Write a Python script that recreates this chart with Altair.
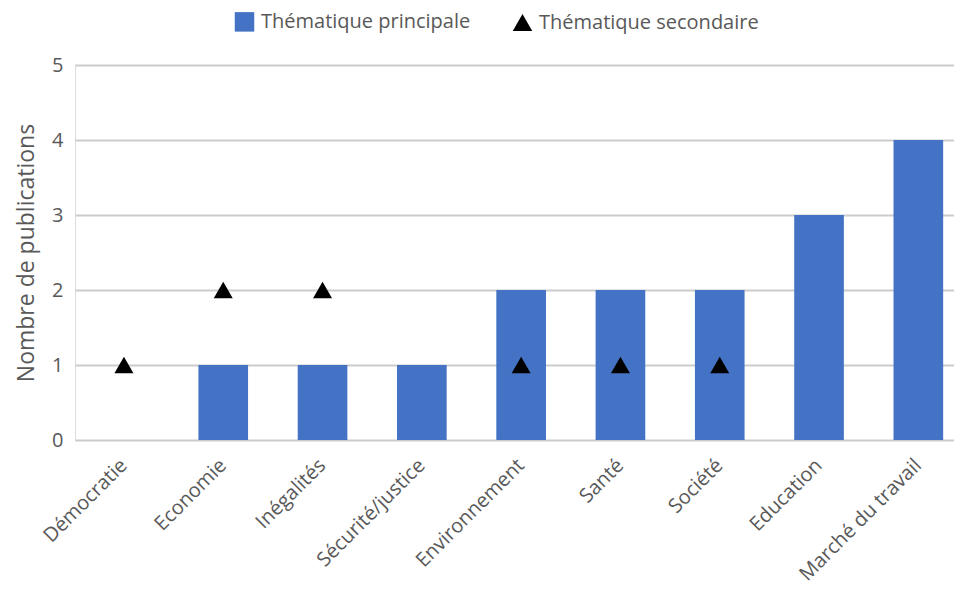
import altair as alt
import pandas as pd

categories = ["Démocratie", "Economie", "Inégalités", "Sécurité/justice", "Environnement",
              "Santé", "Société", "Education", "Marché du travail"]
principale = [0, 1, 1, 1, 2, 2, 2, 3, 4]
secondaire = [1, 2, 2, None, 1, 1, 1, None, None]
series = ["Thématique principale", "Thématique secondaire"]

bars = pd.DataFrame({"cat": categories, "val": principale})
pts = pd.DataFrame({"cat": categories, "val": secondaire, "serie": series[1]}).dropna()

FONT = "Open Sans"
GRAY = "#595959"

xscale = alt.Scale(paddingInner=0.5, paddingOuter=0.176, align=0.69)
x = alt.X("cat:N", sort=categories, title=None, scale=xscale)
y = alt.Y("val:Q", title="Nombre de publications",
          scale=alt.Scale(domain=[0, 5], nice=False),
          axis=alt.Axis(values=[0, 1, 2, 3, 4, 5], format="d"))

bar_layer = alt.Chart(bars).mark_bar(color="#4472C4").encode(x=x, y=y)

leg = alt.Legend(title=None, orient="none", direction="horizontal", legendX=159, legendY=-54,
                 labelFontSize=20, labelColor=GRAY, labelFont=FONT, labelLimit=0,
                 symbolSize=380, columnPadding=38, labelOffset=6, symbolOpacity=1,
                 padding=0)

pt_layer = alt.Chart(pts).mark_point(filled=True, opacity=1, size=360).encode(
    x=alt.X("cat:N", sort=categories, title=None, scale=xscale),
    y=alt.Y("val:Q"),
    color=alt.Color("serie:N", scale=alt.Scale(domain=series, range=["#4472C4", "#000000"]),
                    legend=leg),
    shape=alt.Shape("serie:N", scale=alt.Scale(domain=series, range=["square", "triangle-up"]),
                    legend=leg),
)

chart = alt.layer(bar_layer, pt_layer).properties(
    width=879, height=375,
    autosize=alt.AutoSizeParams(type="none"),
    padding={"left": 67, "top": 57, "right": 0, "bottom": 150},
).configure_view(stroke=None).configure(background="white").configure_axisX(
    labelAngle=-45, labelAlign="right", labelBaseline="middle",
    labelFontSize=20, labelColor=GRAY, labelFont=FONT, labelPadding=22,
    ticks=False, domain=False, grid=False, labelOverlap=False, labelLimit=0,
).configure_axisY(
    labelFontSize=20, labelColor=GRAY, labelFont=FONT, labelPadding=12,
    titleFontSize=23, titleColor=GRAY, titleFont=FONT, titleFontWeight="normal",
    titlePadding=13, ticks=False, domain=False, gridColor="#CCCCCC", gridWidth=2,
)

chart.save("out.html", embed_options={"renderer": "svg", "actions": False})
